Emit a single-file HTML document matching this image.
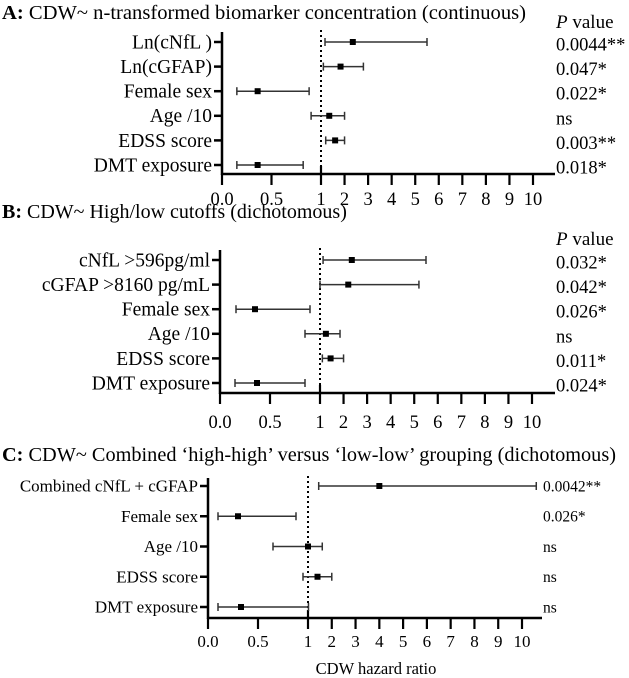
<!DOCTYPE html>
<html><head><meta charset="utf-8"><style>
html,body{margin:0;padding:0;background:#fff;}
svg{display:block;font-family:"Liberation Serif",serif;}
</style></head><body>
<svg id="chart" width="629" height="678" viewBox="0 0 629 678" xmlns="http://www.w3.org/2000/svg">
<text x="2" y="19" font-size="20" textLength="524" lengthAdjust="spacingAndGlyphs"><tspan font-weight="bold">A:</tspan> CDW~ n-transformed biomarker concentration (continuous)</text>
<text x="556" y="28" font-size="19"><tspan font-style="italic">P</tspan> value</text>
<text x="2" y="218" font-size="20"><tspan font-weight="bold">B:</tspan> CDW~ High/low cutoffs (dichotomous)</text>
<text x="556" y="245" font-size="19"><tspan font-style="italic">P</tspan> value</text>
<text x="2" y="461" font-size="20" textLength="614" lengthAdjust="spacingAndGlyphs"><tspan font-weight="bold">C:</tspan> CDW~ Combined ‘high-high’ versus ‘low-low’ grouping (dichotomous)</text>
<text x="376" y="674" font-size="16.5" text-anchor="middle">CDW hazard ratio</text>
<g id="plots"></g>
</svg>
<script>
// Panel A data
const labelsA = ["Ln(cNfL )","Ln(cGFAP)","Female sex","Age /10","EDSS score","DMT exposure"];
const hrA = [2.35,1.83,0.36,1.35,1.6,0.36];
const loA = [1.17,1.1,0.15,0.9,1.2,0.15];
const hiA = [5.5,2.8,0.88,2.0,2.0,0.82];
const pA = ["0.0044**","0.047*","0.022*","ns","0.003**","0.018*"];
// Panel B data
const labelsB = ["cNfL >596pg/ml","cGFAP >8160 pg/mL","Female sex","Age /10","EDSS score","DMT exposure"];
const hrB = [2.35,2.2,0.35,1.25,1.45,0.37];
const loB = [1.13,1.0,0.16,0.85,1.1,0.15];
const hiB = [5.5,5.2,0.9,1.85,2.0,0.85];
const pB = ["0.032*","0.042*","0.026*","ns","0.011*","0.024*"];
// Panel C data
const labelsC = ["Combined cNfL + cGFAP","Female sex","Age /10","EDSS score","DMT exposure"];
const hrC = [4.0,0.3,1.0,1.4,0.33];
const loC = [1.45,0.1,0.65,0.95,0.1];
const hiC = [10.6,0.88,1.6,2.0,1.02];
const pC = ["0.0042**","0.026*","ns","ns","ns"];
// Axis ticks
const tickValues = [0,0.5,1,2,3,4,5,6,7,8,9,10];
const tickLabels = ["0.0","0.5","1","2","3","4","5","6","7","8","9","10"];

const NS = "http://www.w3.org/2000/svg";
const root = document.getElementById('plots');
function mk(tag, attrs, parent){const e=document.createElementNS(NS,tag);for(const k in attrs)e.setAttribute(k,attrs[k]);(parent||root).appendChild(e);return e;}

function panel(id, cfg, labels, hr, lo, hi, pv){
  const g = mk('g',{});
  
  
  const xs = v => v<=1 ? cfg.x0 + v*(cfg.x1-cfg.x0) : cfg.x1 + (v-1)*(cfg.x10-cfg.x1)/9;
  const n = labels.length;
  const ys = i => cfg.yFirst + i*(cfg.yLast-cfg.yFirst)/(n-1);
  const ya = mk('line',{x1:cfg.x0,y1:cfg.top,x2:cfg.x0,y2:cfg.axisY+1,stroke:'#000','stroke-width':2.5},g);
  
  
  const xa = mk('line',{x1:cfg.x0-1,y1:cfg.axisY,x2:cfg.xEnd,y2:cfg.axisY,stroke:'#000','stroke-width':2.5},g);
  
  
  const ref = mk('line',{x1:xs(1),y1:cfg.top-2,x2:xs(1),y2:cfg.axisY,stroke:'#000','stroke-width':2,'stroke-dasharray':'2,3'},g);
  
  
  tickValues.forEach((v,i)=>{
    const x = xs(v);
    const t = mk('line',{x1:x,y1:cfg.axisY,x2:x,y2:cfg.axisY+11,stroke:'#000','stroke-width':2.2},g);
    
    
    const tl = mk('text',{x:x,y:cfg.tickLabelY,'font-size':cfg.tfs,'text-anchor':'middle'},g);
    tl.textContent = tickLabels[i];
    
    
  });
  const m = mk('line',{x1:xs(1),y1:cfg.axisY-8,x2:xs(1),y2:cfg.axisY,stroke:'#000','stroke-width':2.2},g);
  
  
  labels.forEach((lab,i)=>{
    const y = ys(i);
    const tk = mk('line',{x1:cfg.x0-8,y1:y,x2:cfg.x0,y2:y,stroke:'#000','stroke-width':2.5},g);
    
    
    const tl = mk('text',{x:cfg.x0-10,y:y+cfg.fs*0.33,'font-size':cfg.fs,'text-anchor':'end'},g);
    tl.textContent = lab;
    
    
    const ci = mk('line',{x1:xs(lo[i]),y1:y,x2:xs(hi[i]),y2:y,stroke:'#333','stroke-width':1.5},g);
    
    
    [lo[i],hi[i]].forEach(v=>{
      const c = mk('line',{x1:xs(v),y1:y-4,x2:xs(v),y2:y+4,stroke:'#333','stroke-width':1.5},g);
      
      
    });
    const pt = mk('rect',{x:xs(hr[i])-3,y:y-3,width:6,height:6,fill:'#000'},g);
    
    
    const p = mk('text',{x:cfg.pX,y:y+cfg.pfs*0.35+(cfg.pdy||0),'font-size':cfg.pfs},g);
    p.textContent = pv[i];
    
    
  });
}
panel('a',{x0:222,x1:321,x10:533,xEnd:555,top:32,axisY:174,yFirst:42,yLast:165,tickLabelY:205,fs:19.5,tfs:18.5,pfs:18.5,pX:556,pdy:2},labelsA,hrA,loA,hiA,pA);
panel('b',{x0:220,x1:320,x10:532,xEnd:555,top:250,axisY:393,yFirst:260,yLast:383,tickLabelY:428,fs:19.5,tfs:18.5,pfs:18.5,pX:556,pdy:2},labelsB,hrB,loB,hiB,pB);
panel('c',{x0:208,x1:308,x10:522,xEnd:542,top:478,axisY:618,yFirst:486,yLast:607,tickLabelY:647,fs:17,tfs:17,pfs:15.5,pX:543},labelsC,hrC,loC,hiC,pC);
</script>
</body></html>
